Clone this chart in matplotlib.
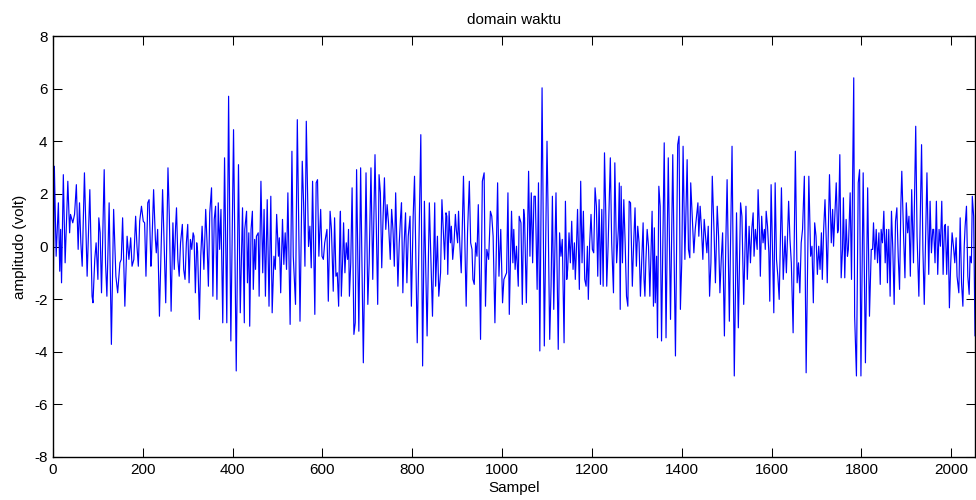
import matplotlib
matplotlib.use("Agg")
import matplotlib.pyplot as plt

plt.rcParams['font.family'] = ['Liberation Sans', 'DejaVu Sans']
plt.rcParams['axes.unicode_minus'] = False

# titik-titik sinyal yang dibaca dari gambar (sampel, amplitudo)
sampel = [
    # 0 - 215
    0, 3, 7, 12, 15, 17, 19, 23, 27, 33, 37, 39, 44, 48, 52, 56, 59, 62, 65, 70,
    76, 82, 87, 89, 93, 96, 100, 102, 105, 108, 114, 117, 120, 125, 130, 135, 140, 144, 149, 152,
    155, 160, 165, 169, 173, 176, 180, 184, 187, 190, 193, 197, 201, 204, 207, 211, 214,
    # 215 - 426
    218, 219, 224, 228, 230, 233, 237, 244, 247, 251, 256, 259, 263, 267, 270, 273, 275, 278, 281, 284,
    288, 291, 294, 297, 300, 303, 306, 309, 312, 314, 317, 320, 322, 326, 329, 332, 336, 340, 343, 346,
    349, 353, 356, 359, 362, 365, 368, 371, 374, 378, 382, 387, 391, 396, 402, 408, 413, 417, 422, 426,
    # 427 - 639
    427, 431, 433, 436, 438, 441, 444, 446, 449, 451, 453, 457, 459, 463, 467, 470, 473, 477, 481, 485,
    488, 492, 495, 498, 502, 504, 507, 511, 514, 517, 520, 523, 528, 532, 535, 540, 544, 550, 555, 558,
    561, 564, 569, 572, 575, 578, 583, 586, 589, 592, 596, 599, 602, 605, 610, 613, 617, 620, 624, 627,
    630, 633, 636, 639,
    # 640 - 850
    640, 642, 645, 647, 650, 653, 656, 658, 660, 663, 666, 670, 673, 676, 681, 685, 691, 697, 701, 704,
    708, 712, 717, 723, 726, 729, 732, 735, 738, 741, 744, 747, 751, 754, 757, 760, 763, 768, 771, 774,
    776, 779, 782, 785, 788, 791, 795, 798, 802, 805, 811, 819, 823, 827, 833, 838, 845, 850,
    # 851 - 1062
    852, 856, 859, 863, 866, 869, 872, 875, 877, 879, 882, 885, 887, 890, 893, 896, 898, 901, 903, 906,
    909, 914, 920, 923, 927, 930, 933, 935, 938, 941, 944, 947, 950, 952, 956, 960, 963, 966, 970, 974,
    977, 980, 984, 990, 993, 997, 1001, 1004, 1007, 1010, 1013, 1016, 1021, 1024, 1026, 1029, 1032, 1036, 1038, 1042,
    1045, 1048, 1050, 1054, 1059, 1062,
    # 1063 - 1274
    1065, 1068, 1071, 1074, 1078, 1081, 1084, 1089, 1094, 1100, 1102, 1106, 1109, 1112, 1115, 1120, 1125, 1128, 1131, 1134,
    1138, 1141, 1144, 1146, 1149, 1152, 1155, 1158, 1161, 1163, 1165, 1168, 1172, 1175, 1178, 1181, 1184, 1187, 1190, 1192,
    1195, 1198, 1201, 1204, 1207, 1210, 1213, 1216, 1219, 1222, 1225, 1228, 1231, 1233, 1236, 1241, 1244, 1248, 1251, 1255,
    1259, 1261, 1263, 1265, 1268, 1271, 1274,
    # 1275 - 1485
    1277, 1280, 1283, 1286, 1290, 1293, 1296, 1299, 1302, 1305, 1308, 1311, 1314, 1316, 1318, 1320, 1323, 1326, 1329, 1334,
    1337, 1339, 1341, 1344, 1346, 1349, 1352, 1355, 1361, 1365, 1370, 1375, 1380, 1386, 1391, 1394, 1397, 1400, 1403, 1407,
    1412, 1415, 1418, 1420, 1423, 1427, 1430, 1433, 1436, 1438, 1441, 1444, 1447, 1450, 1453, 1456, 1459, 1462, 1465, 1468,
    1472, 1475, 1479, 1482, 1485,
    # 1486 - 1696
    1488, 1491, 1495, 1498, 1501, 1506, 1512, 1517, 1522, 1526, 1531, 1534, 1538, 1543, 1546, 1550, 1553, 1556, 1559, 1561,
    1564, 1566, 1568, 1570, 1573, 1575, 1578, 1581, 1584, 1586, 1588, 1591, 1594, 1596, 1599, 1602, 1605, 1608, 1611, 1614,
    1617, 1622, 1626, 1630, 1633, 1635, 1638, 1641, 1644, 1648, 1653, 1657, 1660, 1663, 1666, 1669, 1673, 1677, 1683, 1687,
    1690, 1693, 1696,
    # 1697 - 1909
    1699, 1702, 1705, 1708, 1711, 1713, 1716, 1719, 1722, 1724, 1729, 1733, 1736, 1738, 1741, 1744, 1747, 1749, 1752, 1755,
    1758, 1760, 1763, 1766, 1769, 1771, 1775, 1778, 1783, 1785, 1789, 1793, 1796, 1799, 1804, 1809, 1814, 1818, 1822, 1825,
    1827, 1830, 1833, 1836, 1839, 1842, 1844, 1847, 1850, 1853, 1856, 1858, 1861, 1864, 1867, 1870, 1873, 1876, 1879, 1882,
    1885, 1888, 1890, 1894, 1897, 1900, 1903, 1906, 1909,
    # 1910 - akhir
    1912, 1916, 1921, 1924, 1928, 1934, 1937, 1940, 1946, 1950, 1953, 1956, 1959, 1961, 1964, 1967, 1970, 1973, 1976, 1979,
    1982, 1985, 1987, 1990, 1993, 1996, 1999, 2002, 2005, 2008, 2011, 2013, 2017, 2020, 2023, 2026, 2029, 2031, 2034, 2037,
    2040, 2042, 2045, 2047, 2050, 2053, 2056, 2058,
]

amplitudo = [
    # 0 - 215
    -3.09, 3.05, -0.37, 1.66, -0.94, 0.65, -1.38, 2.73, -0.62, 2.48, 0.52, 1.22, 0.9, 1.22, 2.35, -0.11, 1.66, 0.14, -0.75, 2.8,
    -1.13, 2.16, -1.89, -2.14, -0.49, 0.14, -1.25, 1.09, 0.52, -1.76, 2.92, -0.62, -1.89, 1.66, -3.72, 1.41, -1.13, -1.76, -0.62, -0.49,
    1.09, -2.27, 0.39, -0.49, 0.33, -0.75, -0.49, 1.15, 0.0, -0.75, 0.96, 1.53, 0.96, 0.9, -1.13, 1.66, 1.78,
    # 215 - 426
    -0.75, -0.62, 2.16, 0.27, -0.24, 0.65, -2.65, 2.16, 0.39, -2.14, 2.99, 1.15, -2.46, 0.9, -0.87, 0.77, 1.47, -0.49, -1.13, 0.14,
    0.84, -0.87, -1.25, 0.14, 0.84, -1.38, 0.27, -0.11, 0.52, 0.39, -1.76, 0.14, -0.18, -2.77, -0.37, 0.77, -0.87, 1.41, 0.14, -1.51,
    1.28, 2.23, -1.89, 1.03, 1.53, -2.01, 1.66, -0.11, 1.41, -2.9, 3.37, -2.9, 5.71, -3.59, 4.44, -4.73, 3.11, -2.52, 1.47, -2.9,
    # 427 - 639
    0.65, 1.34, -1.38, 0.52, -3.03, 0.65, 1.34, -1.63, 0.27, -0.87, 0.39, 0.52, -1.89, 2.48, -1.0, 1.41, -1.89, 1.78, -2.27, 1.91,
    -2.52, -0.37, -0.87, 1.22, -0.37, 0.33, -1.76, 1.03, -0.68, 0.52, -0.87, 2.04, -2.96, 3.62, -0.37, -2.2, 4.82, -2.84, 3.24, 1.66,
    -0.75, 4.76, 0.0, 0.77, -0.81, 2.48, -2.58, 2.42, 2.54, -0.37, 1.41, -0.37, -0.49, 0.14, 0.65, -2.08, 1.34, 0.65, -1.7, 1.09,
    -1.13, -1.0, -2.27, 0.9,
    # 640 - 850
    1.34, -1.89, -0.49, 0.9, -1.0, 0.14, -0.49, 0.65, -1.89, -0.62, 2.23, -3.34, -2.9, 2.92, -3.22, 2.99, -4.42, 2.8, -2.2, -0.62,
    2.99, -1.25, 3.49, -2.2, 2.73, 2.04, -0.81, 1.15, 2.61, 0.65, 1.59, 0.9, -0.49, 1.41, 0.65, -0.75, 2.04, -1.51, 0.14, 1.15,
    1.66, -1.76, 0.14, 1.28, -1.38, 0.39, 1.15, -2.27, 1.15, 2.67, -3.66, 4.25, -4.54, 1.72, -3.4, 1.66, -2.65, 1.66,
    # 851 - 1062
    -1.51, 0.39, -1.89, -1.0, 1.78, 0.65, -0.49, 1.28, 1.15, -1.06, 1.34, 0.14, 0.77, -0.49, 0.14, 1.22, 0.65, 0.14, 1.34, 0.01,
    -1.0, 2.67, -2.27, 0.52, 2.48, 0.14, -0.11, -1.25, -1.44, 0.14, -0.37, 1.59, -1.25, -3.53, 2.48, 2.8, -2.27, -0.11, -0.49, 1.34,
    1.15, 0.39, -2.9, 2.42, -1.13, 0.65, -2.14, -1.25, -1.13, -1.0, 2.04, -2.58, 1.34, -0.62, 0.65, -0.87, 0.01, -1.51, 1.15, 0.9,
    -2.2, 1.41, 1.09, -2.14, 2.86, -0.37,
    # 1063 - 1274
    2.04, -0.62, 1.91, 1.91, -1.63, 2.42, -3.97, 6.03, -3.78, 4.0, 1.78, -3.53, -1.51, 1.91, -2.39, 2.04, -3.91, 0.52, -0.37, 0.27,
    -3.66, 1.72, -1.25, -0.87, 0.52, -0.62, 0.96, -0.87, 0.14, -1.25, -0.37, 1.41, -1.63, 2.48, -0.62, 1.34, -1.25, -1.51, 0.01, -2.01,
    0.14, 1.22, -0.11, -0.24, 2.23, 1.53, -1.13, 1.78, -1.44, 1.41, -1.51, 3.56, 1.15, -1.51, 0.01, 3.37, 0.14, -1.76, 3.18, -0.62,
    0.71, 2.42, -2.39, 2.29, -0.62, 1.78, 0.14,
    # 1275 - 1485
    -1.89, -2.27, 1.72, 1.66, -1.51, 0.14, 1.47, -0.75, 0.77, 0.14, -1.89, -0.49, 0.9, -1.25, -1.89, -0.62, 0.65, 0.01, -1.89, 1.34,
    -2.27, 0.71, -2.14, -0.37, -3.47, 2.29, 1.53, -3.59, 3.94, -3.47, 3.37, -2.77, 3.49, -4.16, 3.87, 4.19, -2.39, -0.62, 3.81, -0.49,
    3.3, -0.11, -0.43, 2.42, 1.28, -0.24, 0.65, 1.15, 1.66, 0.39, 1.53, 0.65, -0.49, 1.03, 0.39, -0.24, 0.77, -1.89, -0.62, 2.67,
    0.52, -1.38, 1.53, 0.39, -1.76,
    # 1486 - 1696
    -0.49, 0.52, -3.4, 0.01, 2.54, -2.84, 3.81, -4.92, 1.28, -3.09, 1.66, 1.15, -2.2, 1.53, -1.25, 0.77, -0.62, 0.65, 1.28, -0.37,
    0.65, 0.27, -0.11, 2.16, 0.65, -1.13, 1.15, 0.14, 0.65, -0.11, 1.34, 0.77, -0.24, -2.08, 2.35, 0.01, -2.52, 2.42, -0.49, -1.13,
    -2.01, 2.23, -1.25, 0.39, -1.0, 0.14, 1.72, 0.27, -0.62, -3.28, 3.62, -1.38, -0.62, -1.76, 0.14, 0.65, 2.67, -4.8, 2.67, -0.37,
    0.01, -2.14, 0.9,
    # 1697 - 1909
    0.39, -1.06, 0.01, -0.87, 0.52, -1.25, 0.65, 1.78, 0.14, -1.38, 2.73, 0.14, 1.41, 0.01, 1.22, 2.42, 0.52, 0.65, 3.49, -1.19,
    -0.11, 1.85, -1.19, 1.03, -0.37, -0.11, 2.04, -1.25, 6.41, -2.65, -4.92, 2.42, 2.92, -4.92, 2.8, -4.42, 2.23, -2.65, -0.11, -0.11,
    0.9, -0.49, 0.65, -0.62, 0.52, -1.44, 0.65, 0.14, 1.34, -0.62, 0.65, -1.38, 0.65, -1.89, 1.34, -0.11, -2.2, 0.96, 1.47, -0.37,
    -1.63, 1.66, 2.86, 0.39, -1.19, 1.66, 0.52, 1.15, -1.13,
    # 1910 - akhir
    2.16, -0.62, 4.57, 0.39, -1.89, 3.87, -0.11, -2.2, 2.8, -1.06, 1.72, -0.24, 0.65, 0.65, -0.62, 1.72, -1.06, 0.65, 0.01, 1.72,
    -1.06, 0.77, 0.84, -1.06, 0.77, -2.33, -0.62, 0.52, 0.01, -0.62, 0.33, -1.13, -1.76, 1.09, -1.38, -2.27, 0.01, 0.77, 1.53, -1.13,
    -1.82, -0.37, -0.62, 1.91, 1.15, -3.4, -0.62, 3.3,
]

xtick = list(range(0, 2001, 200))
ytick = list(range(-8, 9, 2))

fig = plt.figure(figsize=(9.76, 5.0), dpi=100)
ax = fig.add_axes([53 / 976, 43 / 500, 922 / 976, 421 / 500])

ax.plot(sampel, amplitudo, color='#0000ff', linewidth=0.85)

ax.set_xlim(0, 2053)
ax.set_ylim(-8, 8)
ax.set_xticks(xtick)
ax.set_yticks(ytick)
ax.tick_params(direction='in', length=6.5, width=0.75, top=True, right=True,
               labelsize=11, pad=4)
for sp in ax.spines.values():
    sp.set_linewidth(1.0)

ax.set_title('domain waktu', fontsize=11, pad=9)
ax.set_xlabel('Sampel', fontsize=11, labelpad=3)
ax.set_ylabel('amplitudo (volt)', fontsize=11, labelpad=5)

fig.savefig('out.png', dpi=100)
